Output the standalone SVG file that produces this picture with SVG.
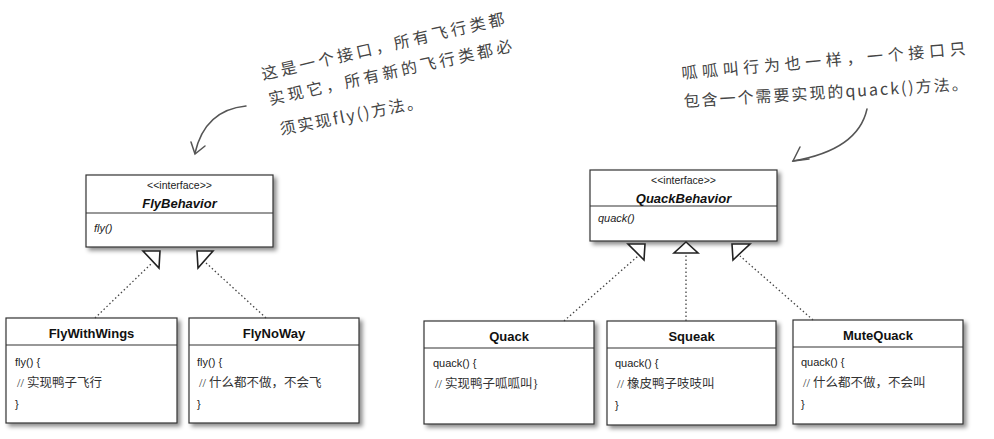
<svg xmlns="http://www.w3.org/2000/svg" width="994" height="439" viewBox="0 0 994 439">
<defs>
<filter id="sh" x="-10%" y="-10%" width="125%" height="130%">
<feDropShadow dx="3" dy="3" stdDeviation="2" flood-color="#000" flood-opacity="0.45"/>
</filter>
</defs>
<style>
.box{fill:#fff;stroke:#333;stroke-width:1.2;filter:url(#sh)}
.div{stroke:#333;stroke-width:1.2}
.st{font-family:"Liberation Sans",Arial,sans-serif;font-size:10.5px;fill:#222;text-anchor:middle}
.in{font-family:"Liberation Sans",Arial,sans-serif;font-size:13px;font-weight:bold;font-style:italic;fill:#111;text-anchor:middle}
.cn{font-family:"Liberation Sans",Arial,sans-serif;font-size:13px;font-weight:bold;fill:#111;text-anchor:middle}
.m{font-family:"Liberation Sans",Arial,sans-serif;font-size:11px;fill:#222}
.mi{font-family:"Liberation Sans",Arial,sans-serif;font-size:11px;font-style:italic;fill:#222}
.cm{font-family:"Liberation Serif","Noto Sans CJK SC",serif;font-size:12.5px;fill:#333}
.hand{font-family:"Noto Sans CJK SC",sans-serif;font-size:16px;fill:#444;letter-spacing:2px}
.dot{stroke:#444;stroke-width:1.3;stroke-dasharray:1.5 2.5;fill:none}
.tri{fill:#fff;stroke:#222;stroke-width:1.6;stroke-linejoin:miter}
.curve{fill:none;stroke:#555;stroke-width:1.5;stroke-linecap:round}
</style>

<g id="note-fly">
<text class="hand" style="letter-spacing:3.4px" transform="translate(263,80) rotate(-13)">这是一个接口，所有飞行类都</text>
<text class="hand" style="letter-spacing:3.4px" transform="translate(270,105) rotate(-12.5)">实现它，所有新的飞行类都必</text>
<text class="hand" transform="translate(281,135) rotate(-11)">须实现fly()方法。</text>
<path class="curve" d="M246,106 Q205,110 195,153"/>
<path class="curve" d="M191,142 L195,154 L205,146"/>
</g>

<g id="note-quack">
<text class="hand" style="letter-spacing:4.7px" transform="translate(682,79) rotate(-5)">呱呱叫行为也一样，一个接口只</text>
<text class="hand" transform="translate(684,107) rotate(-3.5)">包含一个需要实现的quack()方法。</text>
<path class="curve" d="M867,109 Q858,150 793,161"/>
<path class="curve" d="M800,147 L793,161 L809,159"/>
</g>

<g id="FlyBehavior">
<rect class="box" x="86" y="175" width="187" height="72"/>
<line class="div" x1="86" y1="213" x2="273" y2="213"/>
<text class="st" x="179.5" y="189">&lt;&lt;interface&gt;&gt;</text>
<text class="in" x="179.5" y="208">FlyBehavior</text>
<text class="mi" x="94" y="232">fly()</text>
</g>

<g id="QuackBehavior">
<rect class="box" x="590" y="170" width="187" height="71"/>
<line class="div" x1="590" y1="206" x2="777" y2="206"/>
<text class="st" x="683.5" y="184">&lt;&lt;interface&gt;&gt;</text>
<text class="in" x="683.5" y="203">QuackBehavior</text>
<text class="mi" x="598" y="222">quack()</text>
</g>

<g id="FlyWithWings">
<rect class="box" x="6" y="318" width="171" height="105"/>
<line class="div" x1="6" y1="345" x2="177" y2="345"/>
<text class="cn" x="91.5" y="338">FlyWithWings</text>
<text class="m" x="15" y="366">fly() {</text>
<text class="cm" x="17" y="387">// 实现鸭子飞行</text>
<text class="m" x="15" y="408">}</text>
</g>

<g id="FlyNoWay">
<rect class="box" x="189" y="318" width="170" height="105"/>
<line class="div" x1="189" y1="345" x2="359" y2="345"/>
<text class="cn" x="274" y="338">FlyNoWay</text>
<text class="m" x="197" y="366">fly() {</text>
<text class="cm" x="199" y="387">// 什么都不做，不会飞</text>
<text class="m" x="197" y="408">}</text>
</g>

<g id="Quack">
<rect class="box" x="424" y="321" width="170" height="103"/>
<line class="div" x1="424" y1="348" x2="594" y2="348"/>
<text class="cn" x="509" y="341">Quack</text>
<text class="m" x="433" y="367">quack() {</text>
<text class="cm" x="435" y="388">// 实现鸭子呱呱叫}</text>
</g>

<g id="Squeak">
<rect class="box" x="607" y="321" width="169" height="104"/>
<line class="div" x1="607" y1="348" x2="776" y2="348"/>
<text class="cn" x="691.5" y="341">Squeak</text>
<text class="m" x="615" y="367">quack() {</text>
<text class="cm" x="617" y="388">// 橡皮鸭子吱吱叫</text>
<text class="m" x="615" y="409">}</text>
</g>

<g id="MuteQuack">
<rect class="box" x="793" y="320" width="170" height="104"/>
<line class="div" x1="793" y1="347" x2="963" y2="347"/>
<text class="cn" x="878" y="340">MuteQuack</text>
<text class="m" x="801" y="366">quack() {</text>
<text class="cm" x="803" y="387">// 什么都不做，不会叫</text>
<text class="m" x="801" y="408">}</text>
</g>

<g id="connectors">
<line class="dot" x1="95" y1="318" x2="151" y2="264"/>
<line class="dot" x1="266" y1="318" x2="205" y2="262"/>
<line class="dot" x1="564" y1="321" x2="638" y2="256"/>
<line class="dot" x1="686" y1="321" x2="686" y2="254"/>
<line class="dot" x1="813" y1="320" x2="740" y2="256"/>
<polygon class="tri" points="143,251 160,251 159,268"/>
<polygon class="tri" points="197,251 213,251 198,268"/>
<polygon class="tri" points="628,244 645,244 644,260"/>
<polygon class="tri" points="686,242 674,253 698,253"/>
<polygon class="tri" points="732,244 750,244 733,260"/>
</g>
</svg>
